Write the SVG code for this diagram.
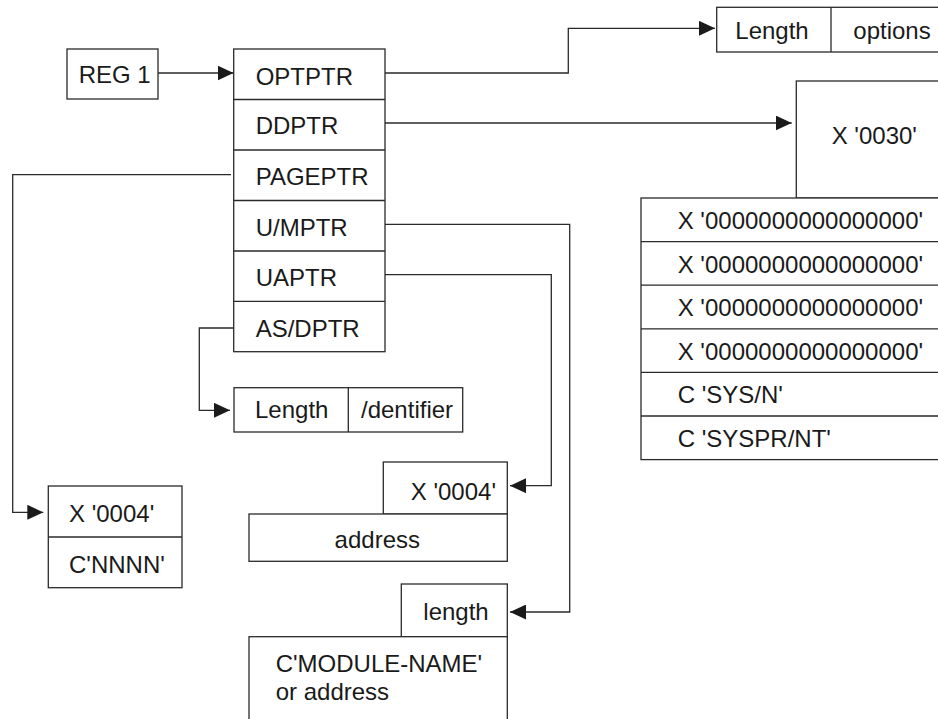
<svg xmlns="http://www.w3.org/2000/svg" width="938" height="719" viewBox="0 0 938 719">
<style>
text{font-family:"Liberation Sans",Arial,sans-serif;font-size:24px;fill:#1a1a1a}
.box{fill:#fff;stroke:#2a2a2a;stroke-width:1.3}
.ln{fill:none;stroke:#2a2a2a;stroke-width:1.3}
.c{fill:none;stroke:#2a2a2a;stroke-width:1.3;marker-end:url(#ah)}
</style>
<defs>
<marker id="ah" markerUnits="userSpaceOnUse" markerWidth="16" markerHeight="15" refX="16" refY="7.5" orient="auto">
<path d="M0,0 L16,7.5 L0,15 Z" fill="#1a1a1a"/>
</marker>
</defs>
<rect width="938" height="719" fill="#fff"/>
<g id="connectors">
<path class="c" d="M158,73 H233.5"/>
<path class="c" d="M385,73 H568.3 V28.3 H715"/>
<path class="c" d="M385,123 H791.7"/>
<path class="c" d="M231,174.7 H12.7 V512.3 H43.3"/>
<path class="c" d="M385,224.3 H569.7 V612 H510"/>
<path class="c" d="M385,274.7 H551.3 V485.7 H510"/>
<path class="c" d="M233.7,328 H199.3 V410.3 H230"/>
</g>
<g id="reg1">
<rect class="box" x="67" y="49" width="91" height="50"/>
<text x="78.7" y="83">REG 1</text>
</g>
<g id="parmlist">
<rect class="box" x="233.7" y="49" width="151.3" height="302.7"/>
<path class="ln" d="M233.7,99.5 H385 M233.7,150 H385 M233.7,200.5 H385 M233.7,251 H385 M233.7,301.3 H385"/>
<text x="255.7" y="85">OPTPTR</text>
<text x="255.7" y="134.3">DDPTR</text>
<text x="255.7" y="185.3">PAGEPTR</text>
<text x="255.7" y="236">U/MPTR</text>
<text x="255.7" y="286">UAPTR</text>
<text x="255.7" y="337.3">AS/DPTR</text>
</g>
<g id="options">
<rect class="box" x="716.7" y="7.3" width="240" height="44.7"/>
<path class="ln" d="M831,7.3 V52"/>
<text x="735.3" y="39">Length</text>
<text x="853.3" y="39">options</text>
</g>
<g id="ddlist">
<rect class="box" x="796.3" y="81" width="160" height="117"/>
<text x="831.7" y="144.3">X '0030'</text>
<rect class="box" x="641" y="198" width="315" height="261.6"/>
<path class="ln" d="M641,241.6 H956 M641,285.2 H956 M641,328.8 H956 M641,372.4 H956 M641,416 H956"/>
<text x="677.7" y="229">X '0000000000000000'</text>
<text x="677.7" y="272.6">X '0000000000000000'</text>
<text x="677.7" y="316.2">X '0000000000000000'</text>
<text x="677.7" y="359.8">X '0000000000000000'</text>
<text x="677.7" y="403.4">C 'SYS/N'</text>
<text x="677.7" y="447">C 'SYSPR/NT'</text>
</g>
<g id="identifier">
<rect class="box" x="234" y="387.7" width="228.7" height="44.3"/>
<path class="ln" d="M348.3,387.7 V432"/>
<text x="255" y="418.3">Length</text>
<text x="361" y="418.3">/dentifier</text>
</g>
<g id="pagelist">
<rect class="box" x="48.3" y="486" width="133.7" height="101.7"/>
<path class="ln" d="M48.3,537 H182"/>
<text x="69" y="522.3">X '0004'</text>
<text x="69" y="572.7">C'NNNN'</text>
</g>
<g id="ualist">
<rect class="box" x="383.3" y="462" width="124" height="52"/>
<rect class="box" x="249" y="514" width="258.3" height="47.3"/>
<text x="496" y="500" text-anchor="end">X '0004'</text>
<text x="377.3" y="547.7" text-anchor="middle">address</text>
</g>
<g id="umlist">
<rect class="box" x="401.3" y="584" width="106" height="52.7"/>
<rect class="box" x="249" y="636.7" width="258.3" height="100"/>
<text x="488.7" y="620" text-anchor="end">length</text>
<text x="275.7" y="671.7">C'MODULE-NAME'</text>
<text x="275.7" y="700">or address</text>
</g>
</svg>
